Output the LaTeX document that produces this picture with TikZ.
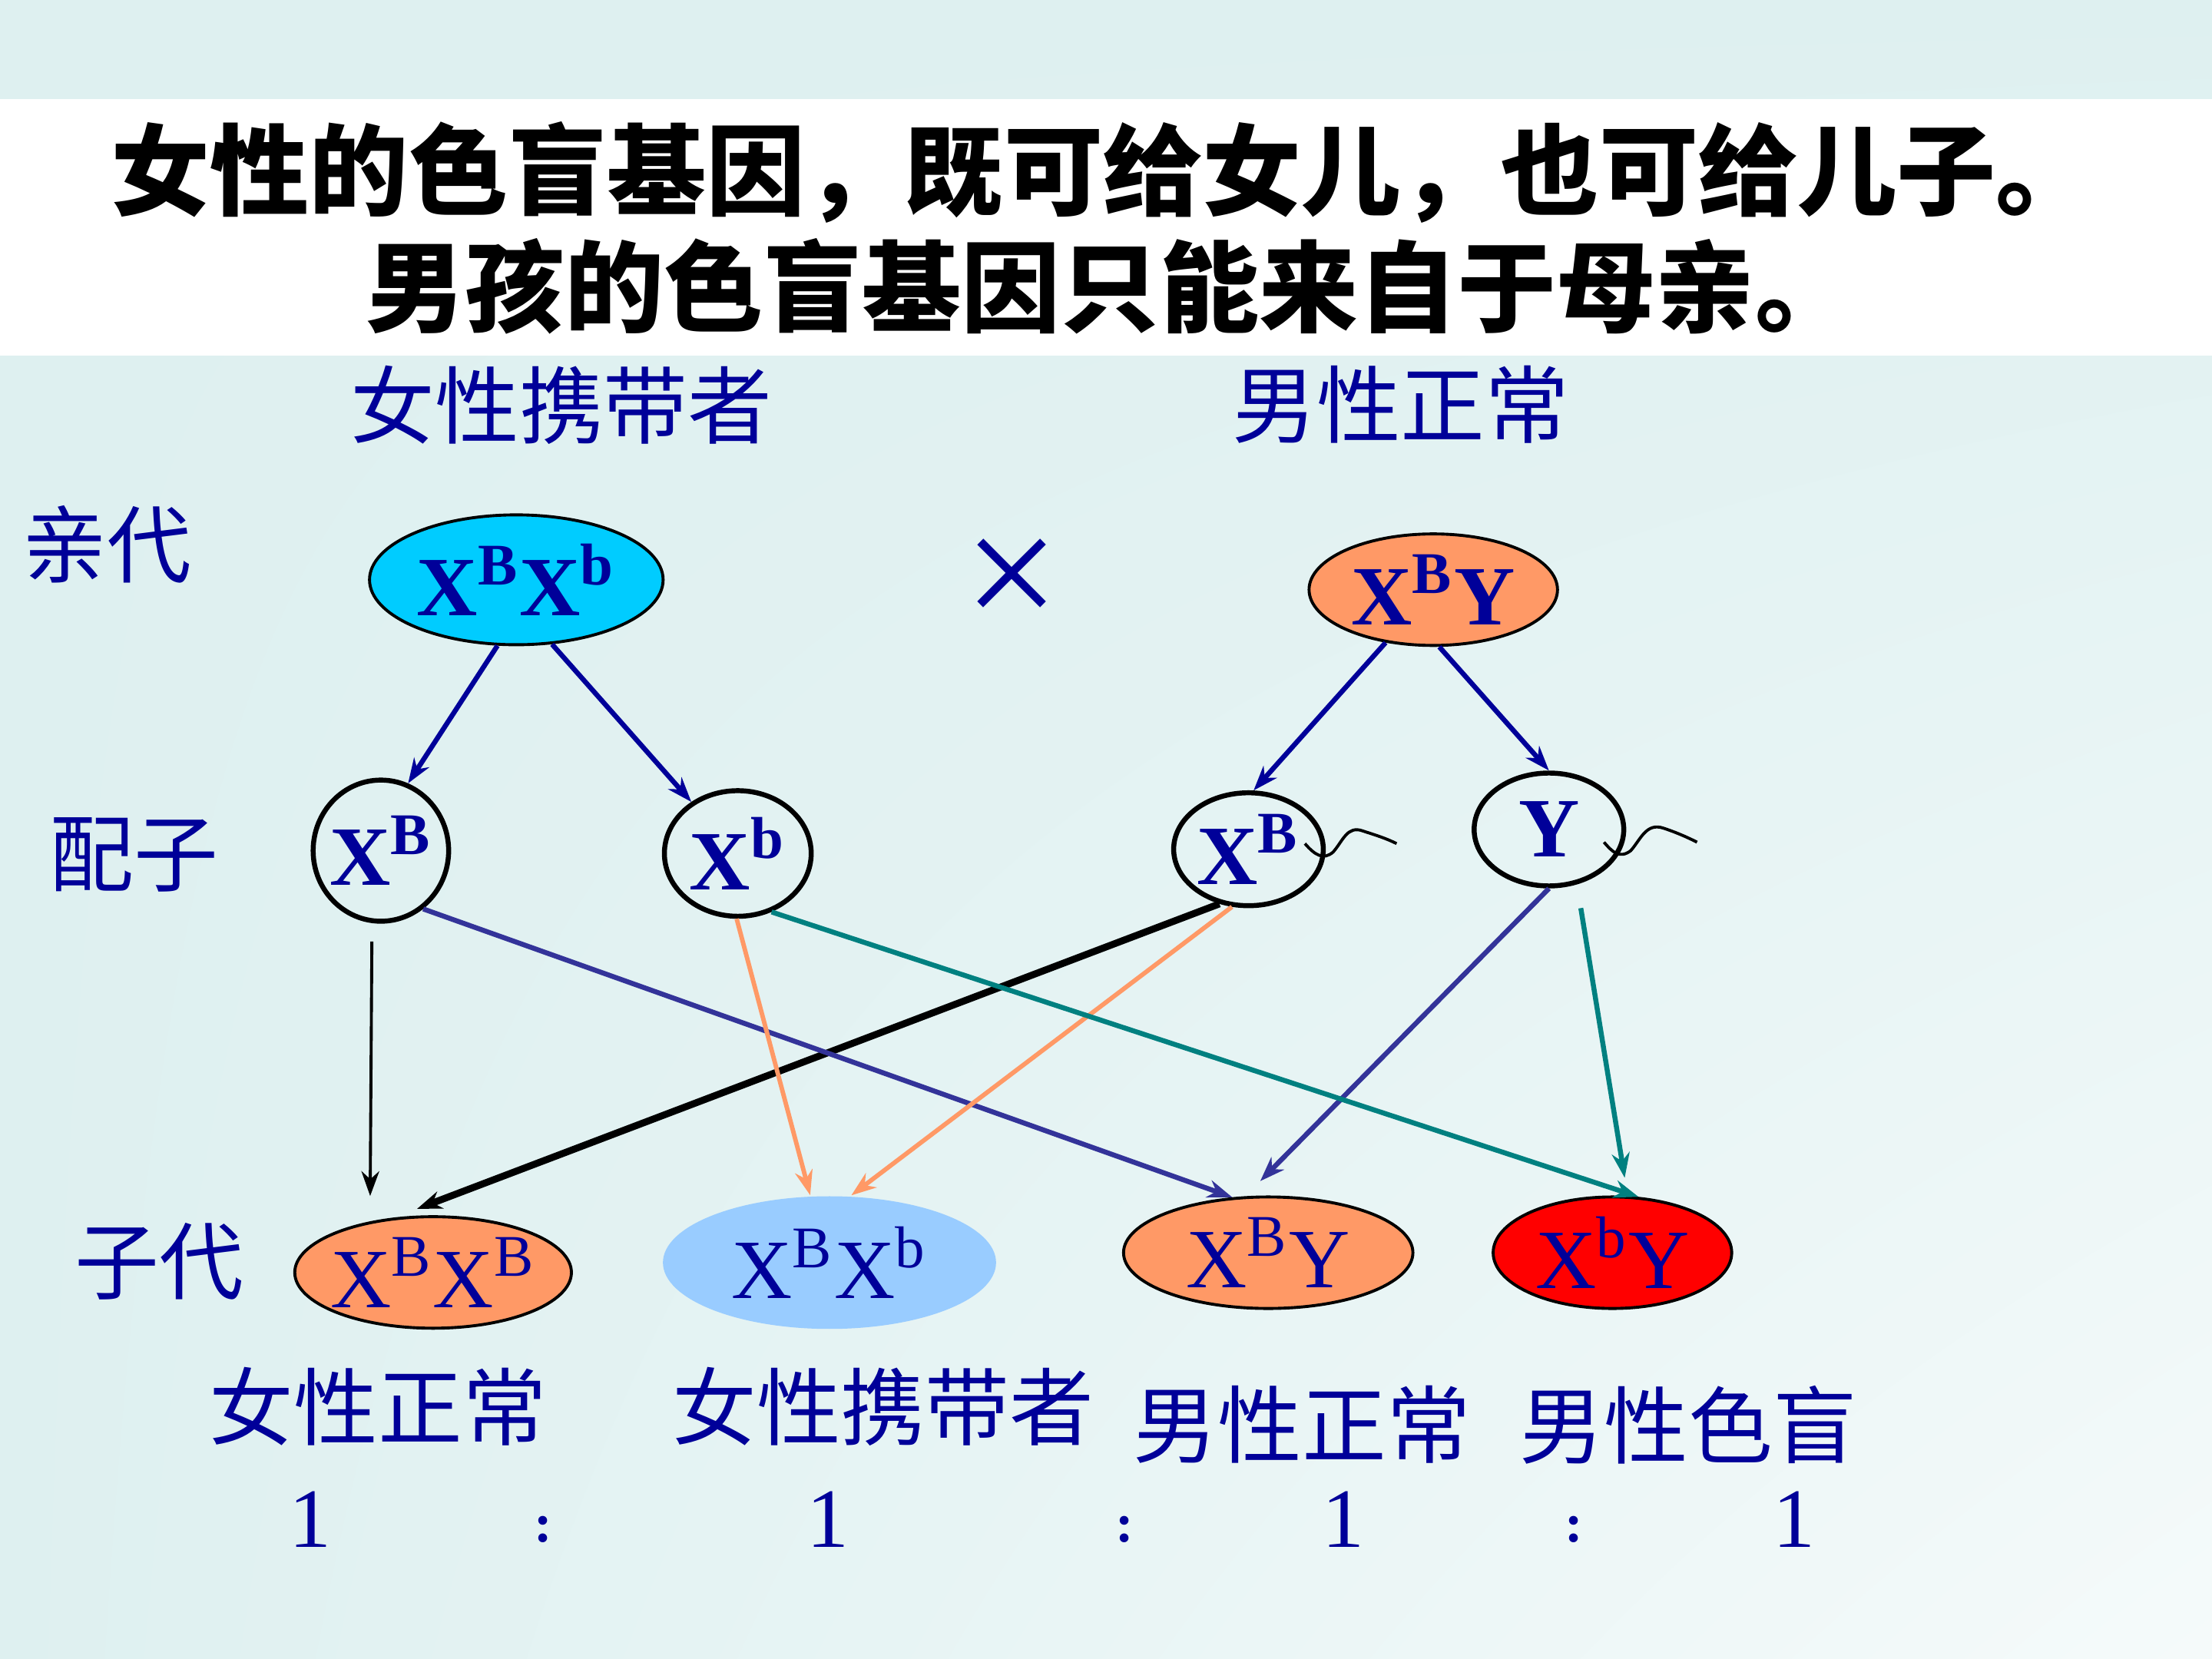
\documentclass[tikz,border=0pt]{standalone}
\usepackage{fontspec}
\setmainfont{Liberation Serif}
\newfontfamily\cjk{Noto Sans CJK SC}
\usetikzlibrary{shapes,arrows.meta,positioning,shadings}
\definecolor{ink}{RGB}{0,0,153}
\definecolor{cyanfill}{RGB}{0,204,255}
\definecolor{salmon}{RGB}{255,153,102}
\definecolor{paleblue}{RGB}{153,204,255}
\definecolor{indigo}{RGB}{51,51,153}
\definecolor{tealline}{RGB}{0,128,128}
\definecolor{bgcyan}{RGB}{222,240,240}
\tikzstyle{parent} = [ellipse,draw,line width=0.6pt,inner sep=-3pt,text=ink,font=\bfseries\fontsize{17}{17}\selectfont]
\tikzstyle{gamete} = [ellipse,draw,line width=1pt,inner sep=-3pt,text=ink,font=\bfseries\fontsize{17}{17}\selectfont]
\tikzstyle{child} = [ellipse,line width=0.6pt,inner sep=-3pt,text=ink,font=\fontsize{17}{17}\selectfont]
\tikzstyle{cnlabel} = [inner sep=0,text=ink,font=\cjk\fontsize{17}{17}\selectfont]
\tikzstyle{ratio} = [inner sep=0,text=ink,font=\fontsize{17}{17}\selectfont]
\tikzstyle{gen} = [-{Stealth[length=5pt,width=3.6pt]},line width=1pt]
\newcommand{\gs}[1]{\textsuperscript{#1}}

\begin{document}
\begin{tikzpicture}[x=0.01cm,y=-0.01cm]
  \useasboundingbox (0,0) rectangle (1568,1176);
  \shade[upper left=bgcyan,upper right=bgcyan,lower left=bgcyan,lower right=bgcyan!30!white] (0,0) rectangle (1568,1176);
  \fill[white] (0,70) rectangle (1568,252);
  % title
  \node[inner sep=0,font=\cjk\bfseries\fontsize{20}{20}\selectfont] (t1) at (782,122) {女性的色盲基因，既可给女儿，也可给儿子。};
  \node[inner sep=0,font=\cjk\bfseries\fontsize{20}{20}\selectfont] (t2) at (787,203) {男孩的色盲基因只能来自于母亲。};
  % row labels
  \node[cnlabel] (mom) at (398,287) {女性携带者};
  \node[cnlabel] (dad) at (993,287) {男性正常};
  \node[cnlabel] (qd) at (76,386) {亲代};
  \node[cnlabel] (pz) at (95,606) {配子};
  \node[cnlabel] (zd) at (113,894) {子代};
  % parents
  \node[parent,fill=cyanfill,minimum width=2.08cm,minimum height=0.92cm] (P1) at (366,411) {X\gs{B}X\gs{b}};
  \node[parent,fill=salmon,minimum width=1.76cm,minimum height=0.79cm] (P2) at (1016,418) {X\gs{B}Y};
  \node[inner sep=0,text=ink,font=\fontsize{34}{34}\selectfont] (cross) at (717,414) {×};
  % gametes
  \node[gamete,minimum width=0.96cm,minimum height=1.0cm] (G1) at (270,603) {X\gs{B}};
  \node[gamete,minimum width=1.04cm,minimum height=0.89cm] (G2) at (523,605) {X\gs{b}};
  \node[gamete,minimum width=1.06cm,minimum height=0.80cm] (G3) at (885,602) {X\gs{B}};
  \node[gamete,minimum width=1.06cm,minimum height=0.80cm] (G4) at (1098,588) {Y};
  \draw[line width=0.6pt] (925,598) .. controls (932,606) and (938,610) .. (945,604) .. controls (952,596) and (955,585) .. (966,589) .. controls (975,592) and (982,594) .. (990,598);
  \draw[line width=0.6pt] (1137,597) .. controls (1143,604) and (1148,609) .. (1156,603) .. controls (1163,595) and (1167,583) .. (1179,587) .. controls (1188,590) and (1195,593) .. (1203,597);
  % offspring
  \node[child,draw,fill=salmon,minimum width=1.96cm,minimum height=0.79cm] (O1) at (307,902) {X\gs{B}X\gs{B}};
  \node[child,fill=paleblue,minimum width=2.36cm,minimum height=0.94cm] (O2) at (588,895) {X\gs{B}X\gs{b}};
  \node[child,draw,fill=salmon,minimum width=2.05cm,minimum height=0.79cm] (O3) at (899,888) {X\gs{B}Y};
  \node[child,draw,fill=red,minimum width=1.69cm,minimum height=0.79cm] (O4) at (1143,888) {X\gs{b}Y};
  % parents to gametes
  \draw[gen,ink] (P1.-106) -- (G1.68);
  \draw[gen,ink] (P1.-61) -- (G2.132);
  \draw[gen,ink] (P2.-132) -- (G3.85);
  \draw[gen,ink] (P2.-84) -- (G4.90);
  % gametes to offspring
  \draw[gen,line width=0.6pt,black,shorten <=0.13cm,shorten >=0.18cm] (G1.-97) -- (O1.141);
  \draw[gen,line width=1.4pt,black,shorten >=0.17cm] (G3.-118) -- (O1.125);
  \draw[gen,indigo] (G1.-54) -- (O3.123);
  \draw[gen,line width=0.9pt,salmon] (G2.-91) -- (O2.106);
  \draw[gen,line width=0.9pt,salmon] (G3.-106) -- (O2.72);
  \draw[gen,indigo,shorten >=0.15cm] (G4.-90) -- (O3.112);
  \draw[gen,tealline] (G2.-60) -- (O4.65);
  \draw[gen,tealline,shorten <=0.17cm,shorten >=0.13cm] (G4.-63) -- (O4.75);
  % phenotypes
  \node[cnlabel] (f1) at (268,997) {女性正常};
  \node[cnlabel] (f2) at (626,997) {女性携带者};
  \node[cnlabel] (m1) at (923,1010) {男性正常};
  \node[cnlabel] (m2) at (1197,1010) {男性色盲};
  \node[ratio] (r1) at (220,1077) {1};
  \node[ratio,font=\bfseries\fontsize{11}{11}\selectfont] (c1) at (385,1084) {:};
  \node[ratio] (r2) at (587,1077) {1};
  \node[ratio,font=\bfseries\fontsize{11}{11}\selectfont] (c2) at (797,1084) {:};
  \node[ratio] (r3) at (952,1077) {1};
  \node[ratio,font=\bfseries\fontsize{11}{11}\selectfont] (c3) at (1116,1084) {:};
  \node[ratio] (r4) at (1272,1077) {1};
\end{tikzpicture}
\end{document}
